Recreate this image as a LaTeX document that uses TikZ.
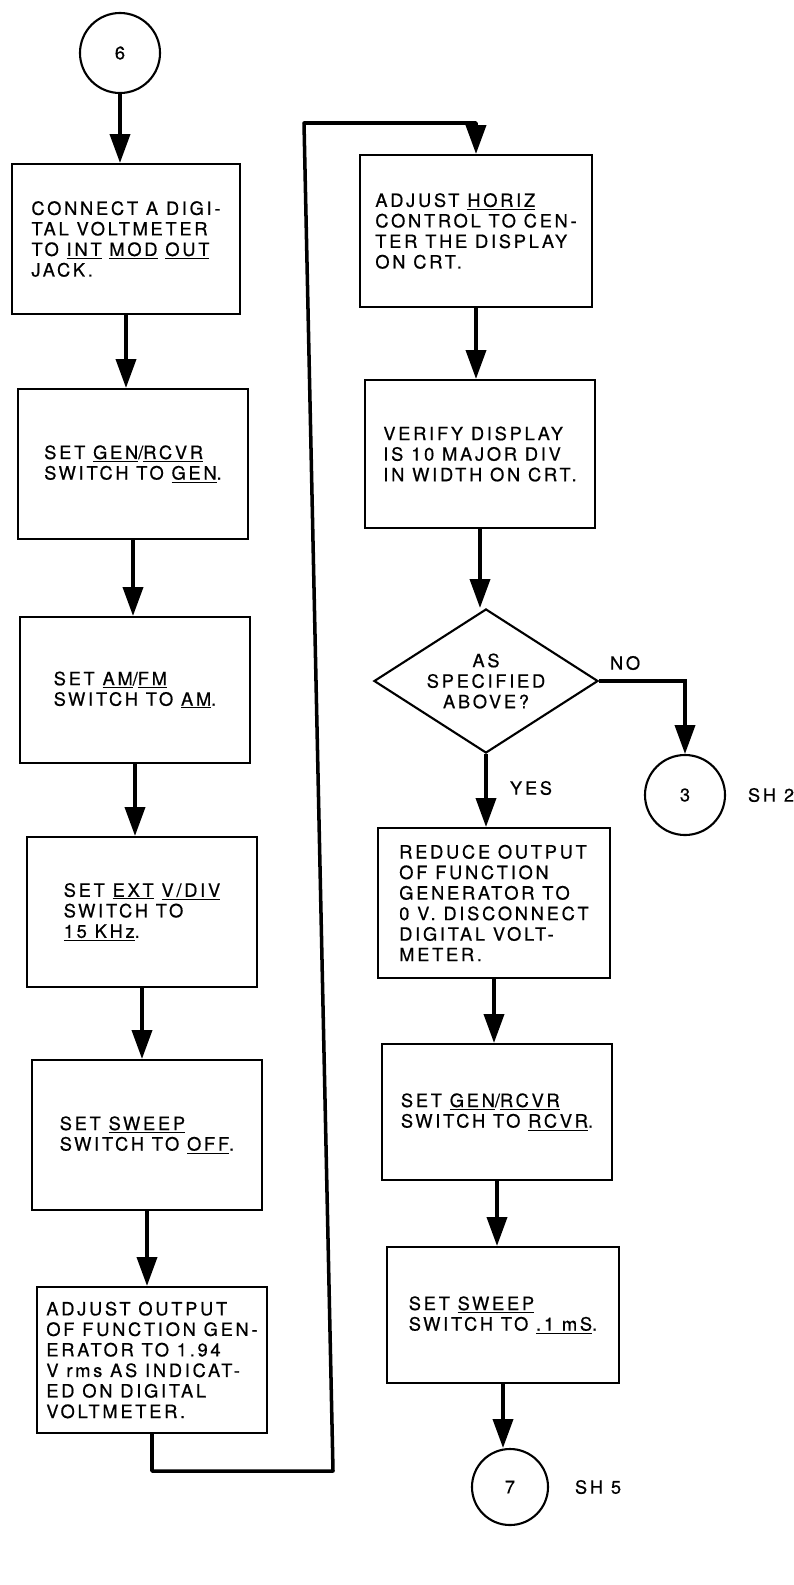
\documentclass[tikz,border=0pt]{standalone}
\usepackage{fontspec}
\setmainfont[LetterSpace=15,FakeBold=0.6]{TeX Gyre Heros}
\usepackage{tikz}
\usetikzlibrary{arrows.meta,shapes.geometric}

\newcommand{\undl}[1]{\underline{#1}}

\tikzset{
  every node/.style={font=\fontsize{13}{14.6}\selectfont},
  stepbox/.style={draw, line width=1.5pt, align=left, inner sep=0pt,
    minimum width=5.75cm, minimum height=3.75cm},
  decide/.style={draw, diamond, aspect=1.55, line width=1.5pt, align=center, inner sep=0pt,
    minimum width=5.6cm, minimum height=3.6cm},
  conn/.style={draw, circle, line width=1.5pt, minimum size=2cm, inner sep=0pt},
  flow/.style={line width=2.5pt, -{Triangle[width=0.5cm,length=0.72cm]}},
  note/.style={anchor=west}
}

\begin{document}
\begin{tikzpicture}[x=0.025cm, y=-0.025cm]
\useasboundingbox (0,0) rectangle (794,1585);

% left column
\node[conn] (c6) at (120,53) {6};
\node[stepbox, minimum width=5.7cm] (b1) at (126,239) {CONNECT A DIGI-\\TAL VOLTMETER\\TO \undl{INT} \undl{MOD} \undl{OUT}\\JACK.};
\node[stepbox] (b2) at (133,464) {SET \undl{GEN}/\undl{RCVR}\\SWITCH TO \undl{GEN}.};
\node[stepbox, minimum height=3.65cm] (b3) at (135,690) {SET \undl{AM}/\undl{FM}\\SWITCH TO \undl{AM}.};
\node[stepbox] (b4) at (142,912) {SET \undl{EXT} \undl{V/DIV}\\SWITCH TO\\\undl{15 KHz}.};
\node[stepbox] (b5) at (147,1135) {SET \undl{SWEEP}\\SWITCH TO \undl{OFF}.};
\node[stepbox, minimum height=3.65cm] (b6) at (152,1360) {ADJUST OUTPUT\\OF FUNCTION GEN-\\ERATOR TO 1.94\\V rms AS INDICAT-\\ED ON DIGITAL\\VOLTMETER.};

% right column
\node[stepbox, minimum width=5.8cm, minimum height=3.8cm] (b7) at (476,231) {ADJUST \undl{HORIZ}\\CONTROL TO CEN-\\TER THE DISPLAY\\ON CRT.};
\node[stepbox, minimum height=3.7cm] (b8) at (480,454) {VERIFY DISPLAY\\IS 10 MAJOR DIV\\IN WIDTH ON CRT.};
\node[decide] (dec) at (486,681) {AS\\SPECIFIED\\ABOVE?};
\node[conn] (c3) at (685,795) {3};
\node[stepbox, minimum width=5.8cm] (b9) at (494,903) {REDUCE OUTPUT\\OF FUNCTION\\GENERATOR TO\\0 V. DISCONNECT\\DIGITAL VOLT-\\METER.};
\node[stepbox, minimum height=3.4cm] (b10) at (497,1112) {SET \undl{GEN}/\undl{RCVR}\\SWITCH TO \undl{RCVR}.};
\node[stepbox, minimum width=5.8cm, minimum height=3.4cm] (b11) at (503,1315) {SET \undl{SWEEP}\\SWITCH TO \undl{.1 mS}.};
\node[conn, minimum size=1.9cm] (c7) at (510,1487) {7};

% labels
\node[note] (lno) at (605,663) {NO};
\node[note] (lyes) at (505,788) {YES};
\node[note] (lsh2) at (743,795) {SH 2};
\node[note] (lsh5) at (570,1487) {SH 5};

\coordinate (lpa) at (333,1471);
\coordinate (lpb) at (304,123);

% connectors
\draw[flow] (c6.south) -- (c6.south |- b1.north);
\draw[flow] (b1.south) -- (b1.south |- b2.north);
\draw[flow] (b2.south) -- (b2.south |- b3.north);
\draw[flow] (b3.south) -- (b3.south |- b4.north);
\draw[flow] (b4.south) -- (b4.south |- b5.north);
\draw[flow] (b5.south) -- (b5.south |- b6.north);
\draw[flow, line join=round] (b6.south) |- (lpa) -- (lpb) -| (b7.north);
\draw[flow] (b7.south) -- (b7.south |- b8.north);
\draw[flow] (b8.south) -- (b8.south |- dec.north);
\draw[flow] (dec.east) -| (c3.north);
\draw[flow] (dec.south) -- (dec.south |- b9.north);
\draw[flow] (b9.south) -- (b9.south |- b10.north);
\draw[flow] (b10.south) -- (b10.south |- b11.north);
\draw[flow] (b11.south) -- (b11.south |- c7.north);
\end{tikzpicture}
\end{document}
